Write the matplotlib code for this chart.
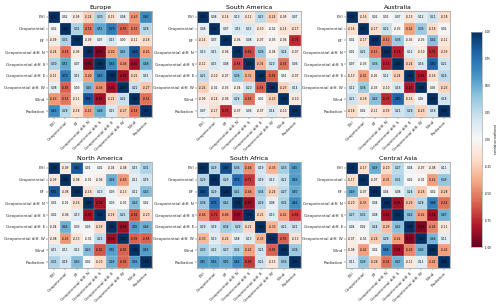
import numpy as np
from matplotlib import pyplot as plt

LABELS = ['EVI', 'Geopotential', 'EF', 'Geopotential diff. N', 'Geopotential diff. S',
          'Geopotential diff. E', 'Geopotential diff. W', 'Wind', 'Radiation']

europe = [
    [1.00, 0.02, -0.09, -0.24, 0.30, -0.15, 0.08, -0.43, 0.63],
    [0.02, 1.00, 0.31, -0.54, 0.52, 0.70, -0.59, -0.53, 0.28],
    [-0.09, 0.31, 1.00, -0.09, 0.07, 0.15, 0.00, -0.11, -0.18],
    [-0.24, -0.54, -0.09, 1.00, -0.93, -0.40, 0.45, 0.86, -0.41],
    [0.30, 0.52, 0.07, -0.93, 1.00, 0.63, -0.46, -0.85, 0.48],
    [-0.15, 0.70, 0.15, -0.40, 0.63, 1.00, -0.85, -0.22, 0.15],
    [0.08, -0.59, 0.00, 0.45, -0.46, -0.85, 1.00, 0.22, -0.27],
    [-0.43, -0.53, -0.11, 0.86, -0.85, -0.22, 0.22, 1.00, -0.54],
    [0.63, 0.28, -0.18, -0.41, 0.48, 0.15, -0.27, -0.54, 1.00],
]
south_america = [
    [1.00, 0.08, -0.14, 0.13, -0.12, 0.25, -0.24, -0.09, 0.07],
    [0.08, 1.00, 0.07, 0.15, 0.15, -0.10, -0.02, -0.14, -0.17],
    [-0.14, 0.07, 1.00, -0.06, 0.08, -0.07, -0.03, -0.06, -0.75],
    [0.13, 0.15, -0.06, 1.00, -0.66, 0.36, -0.04, 0.24, -0.07],
    [-0.12, 0.15, 0.08, -0.66, 1.00, -0.35, 0.20, -0.54, 0.06],
    [0.25, -0.10, -0.07, 0.36, -0.35, 1.00, -0.59, 0.01, -0.07],
    [-0.24, -0.02, -0.03, -0.04, 0.20, -0.59, 1.00, -0.23, 0.14],
    [-0.09, -0.14, -0.06, 0.24, -0.54, 0.01, -0.23, 1.00, -0.10],
    [0.07, -0.17, -0.75, -0.07, 0.06, -0.07, 0.14, -0.10, 1.00],
]
australia = [
    [1.00, -0.16, 0.02, 0.01, 0.07, -0.13, 0.12, 0.21, -0.18],
    [-0.16, 1.00, -0.17, 0.22, -0.03, -0.41, 0.36, -0.18, 0.02],
    [0.02, -0.17, 1.00, -0.51, 0.36, -0.05, -0.03, 0.42, -0.11],
    [0.01, 0.22, -0.51, 1.00, -0.78, 0.12, -0.10, -0.75, -0.19],
    [0.07, -0.03, 0.36, -0.78, 1.00, -0.24, 0.16, 0.80, 0.21],
    [-0.13, -0.41, -0.05, 0.12, -0.24, 1.00, -0.81, -0.16, 0.26],
    [0.12, 0.36, -0.03, -0.10, 0.16, -0.81, 1.00, 0.05, -0.23],
    [0.21, -0.18, 0.42, -0.75, 0.80, -0.16, 0.05, 1.00, 0.18],
    [-0.18, 0.02, -0.11, -0.19, 0.21, 0.26, -0.23, 0.18, 1.00],
]
north_america = [
    [1.00, -0.09, 0.85, 0.01, 0.02, -0.04, -0.08, 0.15, 0.31],
    [-0.09, 1.00, -0.08, -0.01, -0.06, 0.49, -0.43, 0.11, 0.19],
    [0.85, -0.08, 1.00, -0.16, 0.13, 0.03, -0.13, 0.12, 0.43],
    [0.01, -0.01, -0.16, 1.00, -0.83, 0.03, -0.01, 0.43, 0.02],
    [0.02, -0.06, 0.13, -0.83, 1.00, -0.19, 0.25, -0.62, -0.20],
    [-0.04, 0.49, 0.03, 0.03, -0.19, 1.00, -0.86, 0.55, 0.49],
    [-0.08, -0.43, -0.13, -0.01, 0.25, -0.86, 1.00, -0.59, -0.58],
    [0.15, 0.11, 0.12, 0.43, -0.62, 0.55, -0.59, 1.00, 0.56],
    [0.31, 0.19, 0.43, 0.02, -0.20, 0.49, -0.58, 0.56, 1.00],
]
south_africa = [
    [1.00, 0.29, 0.89, 0.36, -0.46, 0.19, -0.33, 0.33, 0.55],
    [0.29, 1.00, 0.29, 0.76, -0.71, 0.19, 0.13, 0.22, 0.56],
    [0.89, 0.29, 1.00, 0.41, -0.46, 0.34, -0.24, 0.27, 0.50],
    [0.36, 0.76, 0.41, 1.00, -0.87, 0.29, 0.08, 0.32, 0.62],
    [-0.46, -0.71, -0.46, -0.87, 1.00, -0.21, 0.13, -0.41, -0.69],
    [0.19, 0.19, 0.34, 0.29, -0.21, 1.00, -0.33, 0.21, 0.21],
    [-0.33, 0.13, -0.24, 0.08, 0.13, -0.33, 1.00, -0.59, -0.13],
    [0.33, 0.22, 0.27, 0.32, -0.41, 0.21, -0.59, 1.00, 0.36],
    [0.55, 0.56, 0.50, 0.62, -0.69, 0.21, -0.13, 0.36, 1.00],
]
central_asia = [
    [1.00, -0.17, 0.49, -0.20, 0.27, 0.04, -0.07, -0.08, 0.11],
    [-0.17, 1.00, -0.07, -0.35, 0.31, 0.02, -0.01, -0.42, 0.39],
    [0.49, -0.07, 1.00, 0.04, 0.08, 0.24, -0.26, 0.02, -0.28],
    [-0.20, -0.35, 0.04, 1.00, -0.85, -0.29, 0.28, 0.68, -0.54],
    [0.27, 0.31, 0.08, -0.85, 1.00, 0.42, -0.42, -0.84, 0.47],
    [0.04, 0.02, 0.24, -0.29, 0.42, 1.00, -0.93, -0.49, -0.11],
    [-0.07, -0.01, -0.26, 0.28, -0.42, -0.93, 1.00, 0.46, 0.11],
    [-0.08, -0.42, 0.02, 0.68, -0.84, -0.49, 0.46, 1.00, -0.42],
    [0.11, 0.39, -0.28, -0.54, 0.47, -0.11, 0.11, -0.42, 1.00],
]

REGIONS = ['Europe', 'South America', 'Australia', 'North America', 'South Africa', 'Central Asia']
MATRICES = [europe, south_america, australia, north_america, south_africa, central_asia]

fig = plt.figure(figsize=(5.0, 3.07), dpi=100)

lefts = [0.096, 0.394, 0.692]
bottoms = [0.619, 0.127]
w, h = 0.208, 0.345

for k, (name, mat) in enumerate(zip(REGIONS, MATRICES)):
    ax = fig.add_axes([lefts[k % 3], bottoms[k // 3], w, h])
    data = np.asarray(mat)
    im = ax.imshow(data, cmap='RdBu', vmin=-1, vmax=1, aspect='auto')
    n = len(LABELS)
    for i in range(n):
        for j in range(n):
            ax.text(j, i, f'{data[i, j]:.2f}', ha='center', va='center',
                    fontsize=2.1, color='black')
    # faint cell separators
    for p in np.arange(-0.5, n, 1):
        ax.axhline(p, color='white', lw=0.25, alpha=0.6)
        ax.axvline(p, color='white', lw=0.25, alpha=0.6)
    ax.set_xticks(range(n))
    ax.set_yticks(range(n))
    ax.set_xticklabels(LABELS, rotation=45, ha='right', rotation_mode='anchor', fontsize=3.0)
    ax.set_yticklabels(LABELS, fontsize=3.0)
    ax.tick_params(length=1.2, width=0.3, pad=1, colors='#333333')
    for s in ax.spines.values():
        s.set_color('#aaaaaa')
        s.set_linewidth(0.6)
    ax.set_title(name, fontsize=4.5, pad=1.5)

cax = fig.add_axes([0.942, 0.195, 0.022, 0.701])
cb = fig.colorbar(im, cax=cax, ticks=np.linspace(-1, 1, 9))
cb.ax.tick_params(labelsize=2.0, length=1, width=0.3, pad=1)
cb.ax.set_yticklabels([f'{t:.2f}' for t in np.linspace(-1, 1, 9)])
cb.set_label('correlation coefficient', fontsize=2.0, labelpad=2)
cb.outline.set_edgecolor('#aaaaaa')
cb.outline.set_linewidth(0.5)

fig.savefig('out.png', dpi=100)
